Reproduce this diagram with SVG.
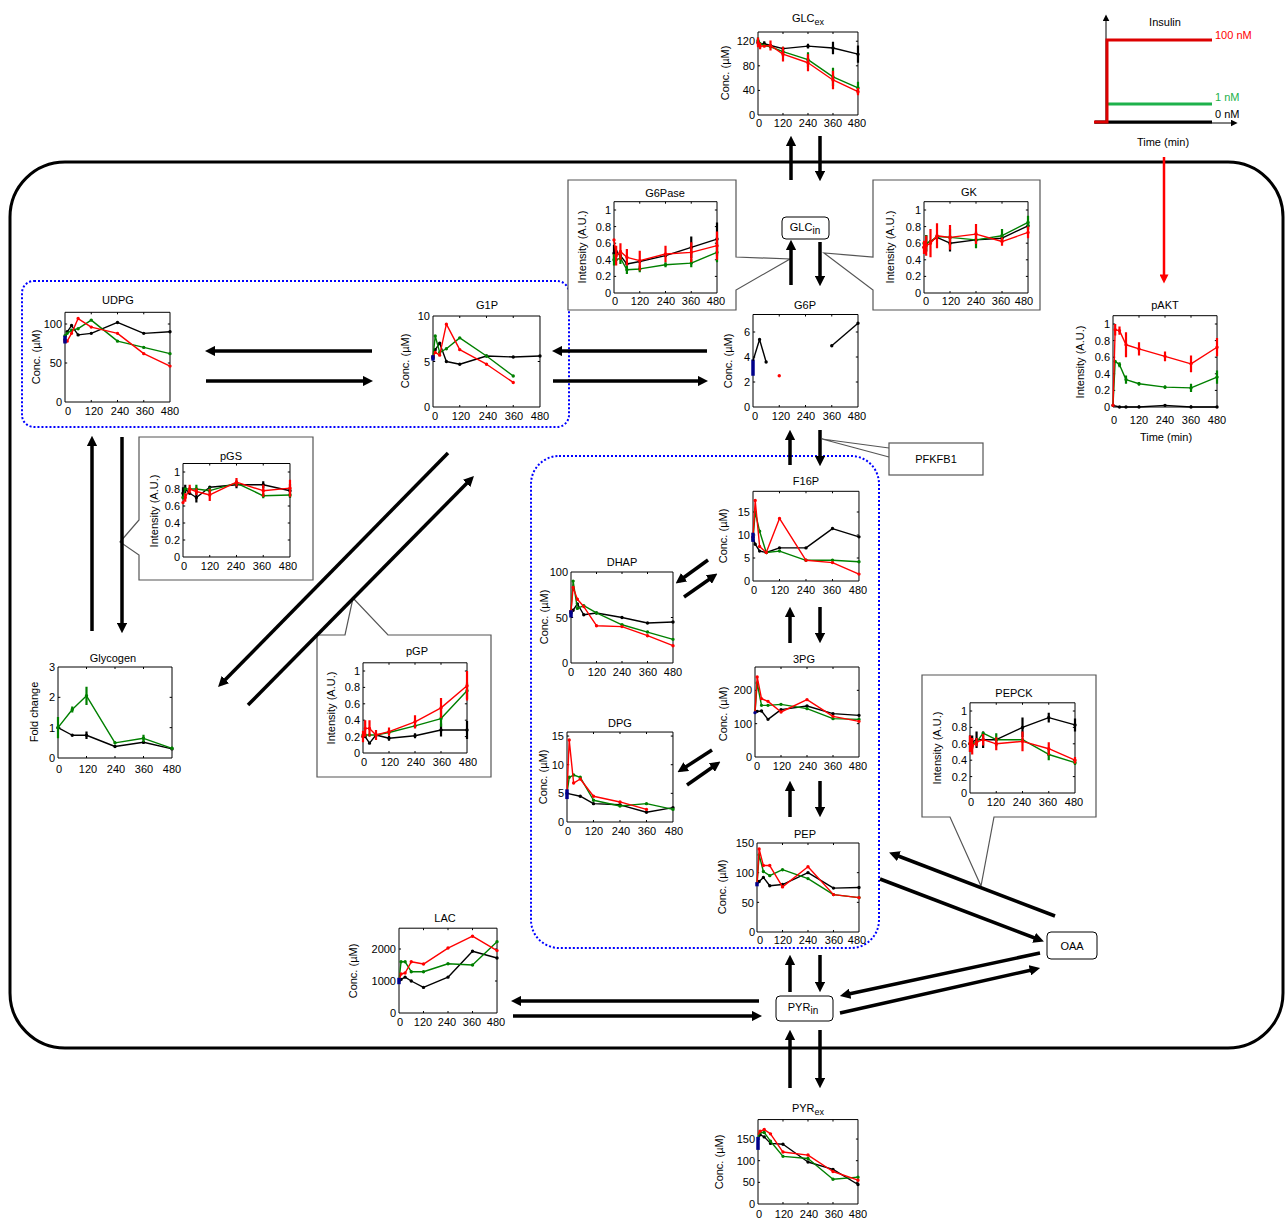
<svg xmlns="http://www.w3.org/2000/svg" xmlns:xlink="http://www.w3.org/1999/xlink" width="1286" height="1221" viewBox="0 0 1286 1221">
<style>
text{font-family:"Liberation Sans",Arial,sans-serif;font-size:11px;fill:#000}
.xt,.tt,.yl{text-anchor:middle}
.yt{text-anchor:end}
.ax{fill:#fff;stroke:#000;stroke-width:1;vector-effect:non-scaling-stroke}
.tk{fill:none;stroke:#000;stroke-width:1;vector-effect:non-scaling-stroke}
.l{fill:none;stroke-width:1.4;stroke-linejoin:round;vector-effect:non-scaling-stroke}
.e{fill:none;stroke-width:2.2;vector-effect:non-scaling-stroke}
.d{fill:none;stroke-width:3.4;stroke-linecap:round;vector-effect:non-scaling-stroke}
.bb{fill:none;stroke:#00008b;stroke-width:3.5;vector-effect:non-scaling-stroke}
.k{stroke:#000}.g{stroke:#008000}.r{stroke:#ff0000}.b{stroke:#00008b}
.co{fill:#fff;stroke:#555;stroke-width:1.2}
.dot{fill:none;stroke:#0000ff;stroke-width:2;stroke-dasharray:2 2}
.ar{fill:none;stroke:#000;stroke-width:3.5;marker-end:url(#ah)}
.bx{fill:#fff;stroke:#000;stroke-width:1}
</style>
<defs>
<marker id="ah" viewBox="0 0 10 10" refX="6" refY="5" markerWidth="3" markerHeight="3" orient="auto" markerUnits="strokeWidth"><path d="M0 0L10 5L0 10z" fill="#000"/></marker>
<marker id="ahr" viewBox="0 0 10 10" refX="6" refY="5" markerWidth="4" markerHeight="3.6" orient="auto" markerUnits="strokeWidth"><path d="M0 0L10 5L0 10z" fill="#f00"/></marker>
<marker id="ahs" viewBox="0 0 10 10" refX="2" refY="5" markerWidth="7" markerHeight="7" orient="auto" markerUnits="strokeWidth"><path d="M0 0L10 5L0 10z" fill="#000"/></marker>
<path id="t11" class="tk" d="M0 .2h10M0 .4h10M0 .6h10M0 .8h10M0 1h10M480 .2h-10M480 .4h-10M480 .6h-10M480 .8h-10M480 1h-10M120 0v.024M240 0v.024M360 0v.024M120 1.1v-.024M240 1.1v-.024M360 1.1v-.024"/>
</defs>
<rect width="1286" height="1221" fill="#fff"/>

<!-- cell and compartments -->
<rect x="10" y="162" width="1273" height="886" rx="55" fill="none" stroke="#000" stroke-width="3"/>
<rect class="dot" x="22" y="281" width="547" height="146" rx="12"/>
<rect class="dot" x="531" y="456" width="348" height="492" rx="28"/>

<!-- callouts -->
<g id="callouts">
<polygon class="co" points="568,180 736,180 736,257 790,259 736,290 736,310 568,310"/>
<polygon class="co" points="873,180 1040,180 1040,310 873,310 873,290 824,253 873,257"/>
<polygon class="co" points="139,437 313,437 313,580 139,580 139,555 120,542 139,520"/>
<polygon class="co" points="317,635 345,635 353,598 388,635 491,635 491,777 317,777"/>
<polygon class="co" points="922,675 1096,675 1096,817 994,817 981,886 950,817 922,817"/>
</g>

<!-- Insulin -->
<g id="insulin">
<path d="M1106 123V20" stroke="#000" stroke-width="1" marker-end="url(#ahs)"/>
<path d="M1094 123H1232" stroke="#000" stroke-width="1" marker-end="url(#ahs)"/>
<path d="M1095 122H1212" stroke="#000" stroke-width="3" fill="none"/>
<path d="M1108 104H1212" stroke="#1db14b" stroke-width="3" fill="none"/>
<path d="M1094 122H1107V40H1212" stroke="#dd0000" stroke-width="3" fill="none"/>
<text class="tt" x="1165" y="26">Insulin</text>
<text x="1215" y="39" fill="#ff0000" style="fill:#ff0000">100 nM</text>
<text x="1215" y="101" style="fill:#1db14b">1 nM</text>
<text x="1215" y="118">0 nM</text>
<text class="tt" x="1163" y="146">Time (min)</text>
</g>

<!-- GLCex -->
<g id="GLCex">
<g transform="translate(758 115) scale(0.2083 -0.6148)">
<rect class="ax" width="480" height="135"/>
<path class="tk" d="M0 40h10M0 80h10M0 120h10M480 40h-10M480 80h-10M480 120h-10M120 0v3.3M240 0v3.3M360 0v3.3M120 135v-3.3M240 135v-3.3M360 135v-3.3"/>
<polyline class="l k" points="0,118 10,115 30,116 60,113 120,108 240,112 360,109 480,99"/>
<path class="d k" d="M0 118h0M10 115h0M30 116h0M60 113h0M120 108h0M240 112h0M360 109h0M480 99h0"/>
<path class="e k" d="M0 113V123M30 112V120M240 108V116M360 99V119M480 85V113"/>
<polyline class="l g" points="0,121 10,116 30,113 60,111 120,103 240,90 360,62 480,44"/>
<path class="d g" d="M0 121h0M10 116h0M30 113h0M60 111h0M120 103h0M240 90h0M360 62h0M480 44h0"/>
<path class="e g" d="M0 116V126M120 95V111M240 78V102M360 47V77M480 34V54"/>
<polyline class="l r" points="0,118 10,112 30,112 60,113 120,99 240,85 360,57 480,38"/>
<path class="d r" d="M0 118h0M10 112h0M30 112h0M60 113h0M120 99h0M240 85h0M360 57h0M480 38h0"/>
<path class="e r" d="M0 110V126M10 107V117M60 105V121M120 87V111M240 71V99M360 42V72M480 32V44"/>
</g>
<text class="tt" x="808" y="22">GLC<tspan font-size="9" dy="3">ex</tspan></text>
<text class="yl" transform="translate(729 73) rotate(-90)">Conc. (µM)</text>
<text class="yt"><tspan x="755" y="119">0</tspan><tspan x="755" y="94">40</tspan><tspan x="755" y="70">80</tspan><tspan x="755" y="45">120</tspan></text>
<text class="xt" y="127"><tspan x="759">0</tspan><tspan x="783">120</tspan><tspan x="808">240</tspan><tspan x="833">360</tspan><tspan x="857">480</tspan></text>
</g>

<!-- GLCin -->
<g id="GLCin">
<rect class="bx" x="782" y="217" width="47" height="22" rx="4"/>
<text class="tt" x="805" y="231">GLC<tspan font-size="10" dy="3">in</tspan></text>
</g>

<!-- G6Pase -->
<g id="G6Pase">
<g transform="translate(614 293) scale(0.2146 -83)">
<rect class="ax" width="480" height="1.1"/>
<use xlink:href="#t11"/>
<polyline class="l k" points="0,.48 10,.5 30,.45 60,.35 120,.38 240,.45 360,.55 480,.65"/>
<path class="d k" d="M0 .48h0M10 .5h0M30 .45h0M60 .35h0M120 .38h0M240 .45h0M360 .55h0M480 .65h0"/>
<path class="e k" d="M0 .38V.58M360 .42V.68M480 .45V.85"/>
<polyline class="l g" points="0,.4 10,.4 30,.42 60,.28 120,.29 240,.34 360,.36 480,.49"/>
<path class="d g" d="M0 .4h0M10 .4h0M30 .42h0M60 .28h0M120 .29h0M240 .34h0M360 .36h0M480 .49h0"/>
<path class="e g" d="M0 .33V.47M30 .35V.49M60 .23V.33M120 .25V.33M240 .31V.37M360 .31V.41M480 .37V.61"/>
<polyline class="l r" points="0,.64 10,.45 30,.5 60,.43 120,.39 240,.47 360,.49 480,.57"/>
<path class="d r" d="M0 .64h0M10 .45h0M30 .5h0M60 .43h0M120 .39h0M240 .47h0M360 .49h0M480 .57h0"/>
<path class="e r" d="M10 .33V.57M30 .4V.6M60 .33V.53M120 .27V.51M240 .37V.57M360 .37V.61M480 .4V.74"/>
</g>
<text class="tt" x="665" y="197">G6Pase</text>
<text class="yl" transform="translate(586 247) rotate(-90)">Intensity (A.U.)</text>
<text class="yt"><tspan x="611" y="297">0</tspan><tspan x="611" y="280">0.2</tspan><tspan x="611" y="264">0.4</tspan><tspan x="611" y="247">0.6</tspan><tspan x="611" y="231">0.8</tspan><tspan x="611" y="214">1</tspan></text>
<text class="xt" y="305"><tspan x="615">0</tspan><tspan x="640">120</tspan><tspan x="666">240</tspan><tspan x="691">360</tspan><tspan x="716">480</tspan></text>
</g>

<!-- GK -->
<g id="GK">
<g transform="translate(924 293) scale(0.2167 -83)">
<rect class="ax" width="480" height="1.1"/>
<use xlink:href="#t11"/>
<polyline class="l k" points="0,.55 10,.6 30,.62 60,.67 120,.6 240,.64 360,.66 480,.81"/>
<path class="d k" d="M0 .55h0M10 .6h0M30 .62h0M60 .67h0M120 .6h0M240 .64h0M360 .66h0M480 .81h0"/>
<path class="e k" d="M10 .5V.7M120 .5V.7M360 .61V.71M480 .76V.86"/>
<polyline class="l g" points="0,.6 10,.6 30,.62 60,.68 120,.67 240,.64 360,.69 480,.85"/>
<path class="d g" d="M0 .6h0M10 .6h0M30 .62h0M60 .68h0M120 .67h0M240 .64h0M360 .69h0M480 .85h0"/>
<path class="e g" d="M10 .5V.7M120 .57V.77M240 .54V.74M360 .61V.77M480 .77V.93"/>
<polyline class="l r" points="0,.55 10,.57 30,.6 60,.69 120,.67 240,.71 360,.62 480,.73"/>
<path class="d r" d="M0 .55h0M10 .57h0M30 .6h0M60 .69h0M120 .67h0M240 .71h0M360 .62h0M480 .73h0"/>
<path class="e r" d="M0 .47V.63M10 .45V.69M30 .43V.77M60 .54V.84M120 .52V.82M240 .59V.83M360 .57V.67M480 .66V.8"/>
</g>
<text class="tt" x="969" y="196">GK</text>
<text class="yl" transform="translate(894 247) rotate(-90)">Intensity (A.U.)</text>
<text class="yt"><tspan x="921" y="297">0</tspan><tspan x="921" y="280">0.2</tspan><tspan x="921" y="264">0.4</tspan><tspan x="921" y="247">0.6</tspan><tspan x="921" y="231">0.8</tspan><tspan x="921" y="214">1</tspan></text>
<text class="xt" y="305"><tspan x="926">0</tspan><tspan x="951">120</tspan><tspan x="976">240</tspan><tspan x="1001">360</tspan><tspan x="1024">480</tspan></text>
</g>

<!-- G6P -->
<g id="G6P">
<g transform="translate(753 407) scale(0.21875 -12.5)">
<rect class="ax" width="480" height="7.4"/>
<path class="tk" d="M0 2h10M0 4h10M0 6h10M480 2h-10M480 4h-10M480 6h-10M120 0v.16M240 0v.16M360 0v.16M120 7.4v-.16M240 7.4v-.16M360 7.4v-.16"/>
<path class="bb" d="M0 2.5V3.8"/>
<polyline class="l k" points="0,3.7 30,5.4 60,3.6"/>
<polyline class="l k" points="360,4.9 480,6.7"/>
<path class="d k" d="M30 5.4h0M60 3.6h0M360 4.9h0M480 6.7h0"/>
<path class="d r" d="M120 2.5h0"/>
</g>
<text class="tt" x="805" y="309">G6P</text>
<text class="yl" transform="translate(732 361) rotate(-90)">Conc. (µM)</text>
<text class="yt"><tspan x="750" y="411">0</tspan><tspan x="750" y="386">2</tspan><tspan x="750" y="361">4</tspan><tspan x="750" y="336">6</tspan></text>
<text class="xt" y="420"><tspan x="755">0</tspan><tspan x="781">120</tspan><tspan x="806">240</tspan><tspan x="832">360</tspan><tspan x="857">480</tspan></text>
</g>

<!-- PFKFB1 -->
<g id="PFKFB1">
<polyline points="889,448 822,439 889,457" fill="none" stroke="#555" stroke-width="1.2"/>
<rect x="889" y="443" width="94" height="32" fill="#fff" stroke="#555" stroke-width="1.2"/>
<text class="tt" x="936" y="463">PFKFB1</text>
</g>

<!-- pAKT -->
<g id="pAKT">
<g transform="translate(1113 407) scale(0.2167 -83)">
<rect class="ax" width="480" height="1.1"/>
<use xlink:href="#t11"/>
<polyline class="l k" points="0,.02 30,0 60,0 120,0 240,.02 360,0 480,0"/>
<path class="d k" d="M0 .02h0M30 0h0M60 0h0M120 0h0M240 .02h0M360 0h0M480 0h0"/>
<polyline class="l g" points="0,.02 10,.55 30,.51 60,.33 120,.28 240,.24 360,.23 480,.36"/>
<path class="d g" d="M10 .55h0M30 .51h0M60 .33h0M120 .28h0M240 .24h0M360 .23h0M480 .36h0"/>
<path class="e g" d="M30 .48V.54M60 .28V.38M120 .26V.3M240 .22V.26M360 .18V.28M480 .28V.44"/>
<polyline class="l r" points="0,.02 10,.93 30,.92 60,.75 120,.7 240,.61 360,.52 480,.72"/>
<path class="d r" d="M0 .02h0M10 .93h0M30 .92h0M60 .75h0M120 .7h0M240 .61h0M360 .52h0M480 .72h0"/>
<path class="e r" d="M10 .86V1M30 .87V.97M60 .6V.9M120 .62V.78M240 .55V.67M360 .42V.62M480 .61V.83"/>
</g>
<text class="tt" x="1165" y="309">pAKT</text>
<text class="yl" transform="translate(1084 362) rotate(-90)">Intensity (A.U.)</text>
<text class="yt"><tspan x="1110" y="411">0</tspan><tspan x="1110" y="394">0.2</tspan><tspan x="1110" y="378">0.4</tspan><tspan x="1110" y="361">0.6</tspan><tspan x="1110" y="345">0.8</tspan><tspan x="1110" y="328">1</tspan></text>
<text class="xt" y="424"><tspan x="1114">0</tspan><tspan x="1139">120</tspan><tspan x="1165">240</tspan><tspan x="1191">360</tspan><tspan x="1217">480</tspan></text>
<text class="tt" x="1166" y="441">Time (min)</text>
</g>

<!-- UDPG -->
<g id="UDPG">
<g transform="translate(65 402) scale(0.21875 -0.78)">
<rect class="ax" width="480" height="115"/>
<path class="tk" d="M0 50h10M0 100h10M480 50h-10M480 100h-10M120 0v2.6M240 0v2.6M360 0v2.6M120 115v-2.6M240 115v-2.6M360 115v-2.6"/>
<polyline class="l k" points="0,80 10,90 30,98 60,86 120,88 240,102 360,88 480,90"/>
<path class="d k" d="M0 80h0M10 90h0M30 98h0M60 86h0M120 88h0M240 102h0M360 88h0M480 90h0"/>
<polyline class="l g" points="0,85 10,88 30,92 60,94 120,105 240,78 360,70 480,62"/>
<path class="d g" d="M0 85h0M10 88h0M30 92h0M60 94h0M120 105h0M240 78h0M360 70h0M480 62h0"/>
<polyline class="l r" points="0,78 10,78 30,88 60,107 120,96 240,88 360,62 480,46"/>
<path class="d r" d="M0 78h0M10 78h0M30 88h0M60 107h0M120 96h0M240 88h0M360 62h0M480 46h0"/>
<path class="bb" d="M0 75V85"/>
</g>
<text class="tt" x="118" y="304">UDPG</text>
<text class="yl" transform="translate(40 357) rotate(-90)">Conc. (µM)</text>
<text class="yt"><tspan x="62" y="406">0</tspan><tspan x="62" y="367">50</tspan><tspan x="62" y="328">100</tspan></text>
<text class="xt" y="415"><tspan x="68">0</tspan><tspan x="94">120</tspan><tspan x="120">240</tspan><tspan x="145">360</tspan><tspan x="170">480</tspan></text>
</g>

<!-- G1P -->
<g id="G1P">
<g transform="translate(433 407) scale(0.2229 -9.1)">
<rect class="ax" width="480" height="10"/>
<path class="tk" d="M0 5h10M480 5h-10M120 0v.22M240 0v.22M360 0v.22M120 10v-.22M240 10v-.22M360 10v-.22"/>
<polyline class="l k" points="0,5.4 10,6.3 30,7 60,5 120,4.7 240,5.6 360,5.5 480,5.6"/>
<path class="d k" d="M0 5.4h0M10 6.3h0M30 7h0M60 5h0M120 4.7h0M240 5.6h0M360 5.5h0M480 5.6h0"/>
<polyline class="l g" points="0,5.5 10,7.8 30,6 60,6.4 120,7.6 240,5.6 360,3.4"/>
<path class="d g" d="M0 5.5h0M10 7.8h0M30 6h0M60 6.4h0M120 7.6h0M240 5.6h0M360 3.4h0"/>
<polyline class="l r" points="0,5.5 10,6 30,5.7 60,9.1 120,6.3 240,4.7 360,2.7"/>
<path class="d r" d="M0 5.5h0M10 6h0M30 5.7h0M60 9.1h0M120 6.3h0M240 4.7h0M360 2.7h0"/>
<path class="bb" d="M0 5.1V5.7"/>
</g>
<text class="tt" x="487" y="309">G1P</text>
<text class="yl" transform="translate(409 361) rotate(-90)">Conc. (µM)</text>
<text class="yt"><tspan x="430" y="411">0</tspan><tspan x="430" y="366">5</tspan><tspan x="430" y="320">10</tspan></text>
<text class="xt" y="420"><tspan x="435">0</tspan><tspan x="461">120</tspan><tspan x="488">240</tspan><tspan x="514">360</tspan><tspan x="540">480</tspan></text>
</g>

<!-- pGS -->
<g id="pGS">
<g transform="translate(183 557) scale(0.2229 -85)">
<rect class="ax" width="480" height="1.1"/>
<use xlink:href="#t11"/>
<polyline class="l k" points="0,.75 10,.8 30,.75 60,.7 120,.82 240,.85 360,.85 480,.78"/>
<path class="d k" d="M0 .75h0M10 .8h0M30 .75h0M60 .7h0M120 .82h0M240 .85h0M360 .85h0M480 .78h0"/>
<path class="e k" d="M0 .68V.82M10 .75V.85M60 .64V.76M240 .81V.89M360 .81V.89M480 .7V.86"/>
<polyline class="l g" points="0,.7 10,.8 30,.8 60,.8 120,.78 240,.87 360,.72 480,.73"/>
<path class="d g" d="M0 .7h0M10 .8h0M30 .8h0M60 .8h0M120 .78h0M240 .87h0M360 .72h0M480 .73h0"/>
<path class="e g" d="M60 .75V.85M120 .74V.82M240 .84V.9M360 .69V.75M480 .7V.76"/>
<polyline class="l r" points="0,.64 10,.7 30,.8 60,.77 120,.73 240,.88 360,.78 480,.81"/>
<path class="d r" d="M0 .64h0M10 .7h0M30 .8h0M60 .77h0M120 .73h0M240 .88h0M360 .78h0M480 .81h0"/>
<path class="e r" d="M10 .65V.75M30 .75V.85M60 .73V.81M120 .66V.8M240 .83V.93M360 .71V.85M480 .71V.91"/>
</g>
<text class="tt" x="231" y="460">pGS</text>
<text class="yl" transform="translate(158 511) rotate(-90)">Intensity (A.U.)</text>
<text class="yt"><tspan x="180" y="561">0</tspan><tspan x="180" y="544">0.2</tspan><tspan x="180" y="527">0.4</tspan><tspan x="180" y="510">0.6</tspan><tspan x="180" y="493">0.8</tspan><tspan x="180" y="476">1</tspan></text>
<text class="xt" y="570"><tspan x="184">0</tspan><tspan x="210">120</tspan><tspan x="236">240</tspan><tspan x="262">360</tspan><tspan x="288">480</tspan></text>
</g>

<!-- Glycogen -->
<g id="Glycogen">
<g transform="translate(58 758) scale(0.2375 -30.33)">
<rect class="ax" width="480" height="3"/>
<path class="tk" d="M0 1h10M0 2h10M480 1h-10M480 2h-10M120 0v.066M240 0v.066M360 0v.066M120 3v-.066M240 3v-.066M360 3v-.066"/>
<polyline class="l k" points="0,1 60,.75 120,.75 240,.38 360,.52 480,.3"/>
<path class="d k" d="M0 1h0M60 .75h0M120 .75h0M240 .38h0M360 .52h0M480 .3h0"/>
<path class="e k" d="M120 .63V.87M360 .47V.57"/>
<polyline class="l g" points="0,1 60,1.6 120,2.05 240,.5 360,.65 480,.32"/>
<path class="d g" d="M0 1h0M60 1.6h0M120 2.05h0M240 .5h0M360 .65h0M480 .32h0"/>
<path class="e g" d="M0 .65V1.35M60 1.5V1.7M120 1.75V2.35M240 .45V.55M360 .53V.77M480 .27V.37"/>
</g>
<text class="tt" x="113" y="662">Glycogen</text>
<text class="yl" transform="translate(38 712) rotate(-90)">Fold change</text>
<text class="yt"><tspan x="55" y="762">0</tspan><tspan x="55" y="732">1</tspan><tspan x="55" y="701">2</tspan><tspan x="55" y="671">3</tspan></text>
<text class="xt" y="773"><tspan x="59">0</tspan><tspan x="88">120</tspan><tspan x="116">240</tspan><tspan x="144">360</tspan><tspan x="172">480</tspan></text>
</g>

<!-- pGP -->
<g id="pGP">
<g transform="translate(363 753) scale(0.2167 -82)">
<rect class="ax" width="480" height="1.1"/>
<use xlink:href="#t11"/>
<polyline class="l k" points="0,.2 10,.2 30,.12 60,.22 120,.18 240,.21 360,.28 480,.28"/>
<path class="d k" d="M0 .2h0M10 .2h0M30 .12h0M60 .22h0M120 .18h0M240 .21h0M360 .28h0M480 .28h0"/>
<path class="e k" d="M120 .15V.21M240 .18V.24M360 .2V.36M480 .17V.39"/>
<polyline class="l g" points="0,.22 10,.22 30,.22 60,.22 120,.25 240,.33 360,.42 480,.76"/>
<path class="d g" d="M0 .22h0M10 .22h0M30 .22h0M60 .22h0M120 .25h0M240 .33h0M360 .42h0M480 .76h0"/>
<path class="e g" d="M360 .32V.52M480 .66V.86"/>
<polyline class="l r" points="0,.2 10,.3 30,.3 60,.22 120,.26 240,.38 360,.55 480,.82"/>
<path class="d r" d="M0 .2h0M10 .3h0M30 .3h0M60 .22h0M120 .26h0M240 .38h0M360 .55h0M480 .82h0"/>
<path class="e r" d="M0 .13V.27M10 .2V.4M30 .2V.4M60 .16V.28M120 .21V.31M240 .3V.46M360 .43V.67M480 .64V1"/>
</g>
<text class="tt" x="417" y="655">pGP</text>
<text class="yl" transform="translate(335 708) rotate(-90)">Intensity (A.U.)</text>
<text class="yt"><tspan x="360" y="757">0</tspan><tspan x="360" y="741">0.2</tspan><tspan x="360" y="724">0.4</tspan><tspan x="360" y="708">0.6</tspan><tspan x="360" y="691">0.8</tspan><tspan x="360" y="675">1</tspan></text>
<text class="xt" y="766"><tspan x="364">0</tspan><tspan x="390">120</tspan><tspan x="416">240</tspan><tspan x="442">360</tspan><tspan x="468">480</tspan></text>
</g>

<!-- DHAP -->
<g id="DHAP">
<g transform="translate(571 663) scale(0.2125 -0.91)">
<rect class="ax" width="480" height="100"/>
<path class="tk" d="M0 50h10M480 50h-10M120 0v2.2M240 0v2.2M360 0v2.2M120 100v-2.2M240 100v-2.2M360 100v-2.2"/>
<polyline class="l k" points="0,55 10,58 30,65 60,53 120,55 240,50 360,44 480,45"/>
<path class="d k" d="M0 55h0M10 58h0M30 65h0M60 53h0M120 55h0M240 50h0M360 44h0M480 45h0"/>
<polyline class="l g" points="0,57 10,90 30,60 60,63 120,55 240,42 360,34 480,26"/>
<path class="d g" d="M0 57h0M10 90h0M30 60h0M60 63h0M120 55h0M240 42h0M360 34h0M480 26h0"/>
<polyline class="l r" points="0,57 10,83 30,70 60,62 120,41 240,40 360,30 480,19"/>
<path class="d r" d="M0 57h0M10 83h0M30 70h0M60 62h0M120 41h0M240 40h0M360 30h0M480 19h0"/>
<path class="bb" d="M0 50V58"/>
</g>
<text class="tt" x="622" y="566">DHAP</text>
<text class="yl" transform="translate(548 617) rotate(-90)">Conc. (µM)</text>
<text class="yt"><tspan x="568" y="667">0</tspan><tspan x="568" y="622">50</tspan><tspan x="568" y="576">100</tspan></text>
<text class="xt" y="676"><tspan x="571">0</tspan><tspan x="597">120</tspan><tspan x="622">240</tspan><tspan x="648">360</tspan><tspan x="673">480</tspan></text>
</g>

<!-- F16P -->
<g id="F16P">
<g transform="translate(753 581) scale(0.2208 -4.6)">
<rect class="ax" width="480" height="19.5"/>
<path class="tk" d="M0 5h10M0 10h10M0 15h10M480 5h-10M480 10h-10M480 15h-10M120 0v.43M240 0v.43M360 0v.43M120 19.5v-.43M240 19.5v-.43M360 19.5v-.43"/>
<polyline class="l k" points="0,9.5 10,8 30,6.5 60,6.2 120,7.2 240,7.2 360,11.4 480,9.6"/>
<path class="d k" d="M0 9.5h0M10 8h0M30 6.5h0M60 6.2h0M120 7.2h0M240 7.2h0M360 11.4h0M480 9.6h0"/>
<polyline class="l g" points="0,9 10,15 30,10.8 60,6.2 120,6.5 240,4.5 360,4.5 480,4.2"/>
<path class="d g" d="M0 9h0M10 15h0M30 10.8h0M60 6.2h0M120 6.5h0M240 4.5h0M360 4.5h0M480 4.2h0"/>
<polyline class="l r" points="0,9.5 10,17.5 30,7.5 60,6.2 120,13.6 240,4.5 360,4 480,1.5"/>
<path class="d r" d="M0 9.5h0M10 17.5h0M30 7.5h0M60 6.2h0M120 13.6h0M240 4.5h0M360 4h0M480 1.5h0"/>
<path class="bb" d="M0 8.5V10.5"/>
</g>
<text class="tt" x="806" y="485">F16P</text>
<text class="yl" transform="translate(727 536) rotate(-90)">Conc. (µM)</text>
<text class="yt"><tspan x="750" y="585">0</tspan><tspan x="750" y="562">5</tspan><tspan x="750" y="539">10</tspan><tspan x="750" y="516">15</tspan></text>
<text class="xt" y="594"><tspan x="754">0</tspan><tspan x="780">120</tspan><tspan x="806">240</tspan><tspan x="832">360</tspan><tspan x="858">480</tspan></text>
</g>

<!-- 3PG -->
<g id="PG3">
<g transform="translate(755 757) scale(0.2167 -0.3333)">
<rect class="ax" width="480" height="270"/>
<path class="tk" d="M0 100h10M0 200h10M480 100h-10M480 200h-10M120 0v6M240 0v6M360 0v6M120 270v-6M240 270v-6M360 270v-6"/>
<polyline class="l k" points="0,133 10,137 30,138 60,113 120,142 240,153 360,130 480,125"/>
<path class="d k" d="M10 137h0M30 138h0M60 113h0M120 142h0M240 153h0M360 130h0M480 125h0"/>
<polyline class="l g" points="0,133 10,222 30,155 60,155 120,158 240,145 360,115 480,113"/>
<path class="d g" d="M10 222h0M30 155h0M60 155h0M120 158h0M240 145h0M360 115h0M480 113h0"/>
<polyline class="l r" points="0,133 10,240 30,175 60,167 120,135 240,172 360,122 480,107"/>
<path class="d r" d="M10 240h0M30 175h0M60 167h0M120 135h0M240 172h0M360 122h0M480 107h0"/>
<path class="d b" d="M0 133h0"/>
</g>
<text class="tt" x="804" y="663">3PG</text>
<text class="yl" transform="translate(727 714) rotate(-90)">Conc. (µM)</text>
<text class="yt"><tspan x="752" y="761">0</tspan><tspan x="752" y="728">100</tspan><tspan x="752" y="694">200</tspan></text>
<text class="xt" y="770"><tspan x="757">0</tspan><tspan x="782">120</tspan><tspan x="808">240</tspan><tspan x="833">360</tspan><tspan x="858">480</tspan></text>
</g>

<!-- DPG -->
<g id="DPG">
<g transform="translate(567 822) scale(0.2208 -5.73)">
<rect class="ax" width="480" height="15.7"/>
<path class="tk" d="M0 5h10M0 10h10M0 15h10M480 5h-10M480 10h-10M480 15h-10M120 0v.35M240 0v.35M360 0v.35M120 15.7v-.35M240 15.7v-.35M360 15.7v-.35"/>
<polyline class="l k" points="0,5 60,4.5 120,3.2 240,3 360,1.7 480,2.5"/>
<path class="d k" d="M0 5h0M60 4.5h0M120 3.2h0M240 3h0M360 1.7h0M480 2.5h0"/>
<polyline class="l g" points="0,5 10,7.8 30,8.2 60,7.8 120,3.8 240,2.8 360,3.2 480,2.2"/>
<path class="d g" d="M10 7.8h0M30 8.2h0M60 7.8h0M120 3.8h0M240 2.8h0M360 3.2h0M480 2.2h0"/>
<polyline class="l r" points="0,5 10,14.3 30,6.8 60,7.5 120,4.5 240,3.5 360,2.2"/>
<path class="d r" d="M10 14.3h0M30 6.8h0M60 7.5h0M120 4.5h0M240 3.5h0M360 2.2h0"/>
<path class="bb" d="M0 4V5.7"/>
</g>
<text class="tt" x="620" y="727">DPG</text>
<text class="yl" transform="translate(547 777) rotate(-90)">Conc. (µM)</text>
<text class="yt"><tspan x="564" y="826">0</tspan><tspan x="564" y="797">5</tspan><tspan x="564" y="769">10</tspan><tspan x="564" y="740">15</tspan></text>
<text class="xt" y="835"><tspan x="568">0</tspan><tspan x="594">120</tspan><tspan x="621">240</tspan><tspan x="647">360</tspan><tspan x="674">480</tspan></text>
</g>

<!-- PEP -->
<g id="PEP">
<g transform="translate(757 932) scale(0.2125 -0.5933)">
<rect class="ax" width="480" height="150"/>
<path class="tk" d="M0 50h10M0 100h10M480 50h-10M480 100h-10M120 0v3.4M240 0v3.4M360 0v3.4M120 150v-3.4M240 150v-3.4M360 150v-3.4"/>
<polyline class="l k" points="0,80 10,85 30,92 60,78 120,80 240,100 360,74 480,75"/>
<path class="d k" d="M10 85h0M30 92h0M60 78h0M120 80h0M240 100h0M360 74h0M480 75h0"/>
<polyline class="l g" points="0,80 10,130 30,102 60,95 120,105 240,90 360,63 480,58"/>
<path class="d g" d="M10 130h0M30 102h0M60 95h0M120 105h0M240 90h0M360 63h0M480 58h0"/>
<polyline class="l r" points="0,80 10,140 30,112 60,112 120,76 240,110 360,63 480,58"/>
<path class="d r" d="M10 140h0M30 112h0M60 112h0M120 76h0M240 110h0M360 63h0M480 58h0"/>
<path class="bb" d="M0 77V84"/>
</g>
<text class="tt" x="805" y="838">PEP</text>
<text class="yl" transform="translate(726 887) rotate(-90)">Conc. (µM)</text>
<text class="yt"><tspan x="755" y="936">0</tspan><tspan x="754" y="907">50</tspan><tspan x="754" y="877">100</tspan><tspan x="754" y="847">150</tspan></text>
<text class="xt" y="944"><tspan x="760">0</tspan><tspan x="783">120</tspan><tspan x="808">240</tspan><tspan x="834">360</tspan><tspan x="857">480</tspan></text>
</g>

<!-- PEPCK -->
<g id="PEPCK">
<g transform="translate(970 793) scale(0.21875 -82)">
<rect class="ax" width="480" height="1.1"/>
<use xlink:href="#t11"/>
<polyline class="l k" points="0,.6 10,.62 30,.65 60,.65 120,.65 240,.8 360,.92 480,.83"/>
<path class="d k" d="M0 .6h0M10 .62h0M30 .65h0M60 .65h0M120 .65h0M240 .8h0M360 .92h0M480 .83h0"/>
<path class="e k" d="M0 .5V.7M10 .54V.7M30 .55V.75M60 .55V.75M240 .68V.92M360 .86V.98M480 .75V.91"/>
<polyline class="l g" points="0,.6 10,.6 30,.62 60,.73 120,.65 240,.65 360,.47 480,.37"/>
<path class="d g" d="M0 .6h0M10 .6h0M30 .62h0M60 .73h0M120 .65h0M240 .65h0M360 .47h0M480 .37h0"/>
<path class="e g" d="M120 .57V.73M360 .4V.54M480 .34V.4"/>
<polyline class="l r" points="0,.6 10,.57 30,.62 60,.65 120,.6 240,.63 360,.54 480,.4"/>
<path class="d r" d="M0 .6h0M10 .57h0M30 .62h0M60 .65h0M120 .6h0M240 .63h0M360 .54h0M480 .4h0"/>
<path class="e r" d="M0 .5V.7M10 .47V.67M30 .57V.67M60 .58V.72M120 .52V.68M240 .51V.75M360 .46V.62M480 .36V.44"/>
</g>
<text class="tt" x="1014" y="697">PEPCK</text>
<text class="yl" transform="translate(941 748) rotate(-90)">Intensity (A.U.)</text>
<text class="yt"><tspan x="967" y="797">0</tspan><tspan x="967" y="781">0.2</tspan><tspan x="967" y="764">0.4</tspan><tspan x="967" y="748">0.6</tspan><tspan x="967" y="731">0.8</tspan><tspan x="967" y="715">1</tspan></text>
<text class="xt" y="806"><tspan x="971">0</tspan><tspan x="996">120</tspan><tspan x="1022">240</tspan><tspan x="1048">360</tspan><tspan x="1074">480</tspan></text>
</g>

<!-- OAA -->
<g id="OAA">
<rect class="bx" x="1047" y="932" width="50" height="27" rx="4"/>
<text class="tt" x="1072" y="950">OAA</text>
</g>

<!-- PYRin -->
<g id="PYRin">
<rect class="bx" x="776" y="996" width="57" height="25" rx="4"/>
<text class="tt" x="803" y="1011">PYR<tspan font-size="10" dy="3">in</tspan></text>
</g>

<!-- LAC -->
<g id="LAC">
<g transform="translate(399 1013) scale(0.2042 -0.032)">
<rect class="ax" width="480" height="2650"/>
<path class="tk" d="M0 1000h10M0 2000h10M480 1000h-10M480 2000h-10M120 0v62M240 0v62M360 0v62M120 2650v-62M240 2650v-62M360 2650v-62"/>
<polyline class="l k" points="0,1000 10,1050 30,1120 60,1000 120,800 240,1120 360,1930 480,1720"/>
<path class="d k" d="M10 1050h0M30 1120h0M60 1000h0M120 800h0M240 1120h0M360 1930h0M480 1720h0"/>
<polyline class="l g" points="0,1000 10,1600 30,1600 60,1290 120,1290 240,1540 360,1500 480,2230"/>
<path class="d g" d="M10 1600h0M30 1600h0M60 1290h0M120 1290h0M240 1540h0M360 1500h0M480 2230h0"/>
<polyline class="l r" points="0,1000 10,1220 30,1250 60,1600 120,1530 240,2030 360,2400 480,1950"/>
<path class="d r" d="M10 1220h0M30 1250h0M60 1600h0M120 1530h0M240 2030h0M360 2400h0M480 1950h0"/>
<path class="bb" d="M0 900V1100"/>
</g>
<text class="tt" x="445" y="922">LAC</text>
<text class="yl" transform="translate(357 971) rotate(-90)">Conc. (µM)</text>
<text class="yt"><tspan x="396" y="1017">0</tspan><tspan x="396" y="985">1000</tspan><tspan x="396" y="953">2000</tspan></text>
<text class="xt" y="1026"><tspan x="400">0</tspan><tspan x="423">120</tspan><tspan x="447">240</tspan><tspan x="472">360</tspan><tspan x="496">480</tspan></text>
</g>

<!-- PYRex -->
<g id="PYRex">
<g transform="translate(758 1204) scale(0.2083 -0.433)">
<rect class="ax" width="480" height="195"/>
<path class="tk" d="M0 50h10M0 100h10M0 150h10M480 50h-10M480 100h-10M480 150h-10M120 0v4.6M240 0v4.6M360 0v4.6M120 195v-4.6M240 195v-4.6M360 195v-4.6"/>
<polyline class="l k" points="0,150 10,160 30,155 60,140 120,138 240,97 360,80 480,45"/>
<path class="d k" d="M10 160h0M30 155h0M60 140h0M120 138h0M240 97h0M360 80h0M480 45h0"/>
<polyline class="l g" points="0,155 10,165 30,165 60,145 120,110 240,105 360,57 480,62"/>
<path class="d g" d="M10 165h0M30 165h0M60 145h0M120 110h0M240 105h0M360 57h0M480 62h0"/>
<polyline class="l r" points="0,160 10,168 30,172 60,162 120,120 240,113 360,75 480,55"/>
<path class="d r" d="M10 168h0M30 172h0M60 162h0M120 120h0M240 113h0M360 75h0M480 55h0"/>
<path class="bb" d="M0 125V155"/>
</g>
<text class="tt" x="808" y="1112">PYR<tspan font-size="9" dy="3">ex</tspan></text>
<text class="yl" transform="translate(723 1162) rotate(-90)">Conc. (µM)</text>
<text class="yt"><tspan x="755" y="1208">0</tspan><tspan x="755" y="1186">50</tspan><tspan x="755" y="1165">100</tspan><tspan x="755" y="1143">150</tspan></text>
<text class="xt" y="1218"><tspan x="759">0</tspan><tspan x="784">120</tspan><tspan x="809">240</tspan><tspan x="834">360</tspan><tspan x="858">480</tspan></text>
</g>

<!-- connectors -->
<g id="connectors">
<path class="ar" d="M791 180V140"/>
<path class="ar" d="M820 136V177"/>
<path class="ar" d="M791 285V244"/>
<path class="ar" d="M820 242V282"/>
<path class="ar" d="M372 351H209"/>
<path class="ar" d="M206 381H369"/>
<path class="ar" d="M707 351H556"/>
<path class="ar" d="M553 381H704"/>
<path class="ar" d="M92 631V440"/>
<path class="ar" d="M122 437V629"/>
<path class="ar" d="M448 453L221 684"/>
<path class="ar" d="M248 705L471 479"/>
<path class="ar" d="M790 465V434"/>
<path class="ar" d="M820 430V462"/>
<path class="ar" d="M708 560L679 581"/>
<path class="ar" d="M684 597L714 576"/>
<path class="ar" d="M790 643V611"/>
<path class="ar" d="M820 607V639"/>
<path class="ar" d="M712 750L681 770"/>
<path class="ar" d="M687 785L717 764"/>
<path class="ar" d="M790 817V785"/>
<path class="ar" d="M820 781V813"/>
<path class="ar" d="M1055 916L893 854"/>
<path class="ar" d="M880 879L1040 940"/>
<path class="ar" d="M790 992V959"/>
<path class="ar" d="M820 955V988"/>
<path class="ar" d="M1040 953L844 995"/>
<path class="ar" d="M840 1013L1036 969"/>
<path class="ar" d="M759 1001H515"/>
<path class="ar" d="M513 1016H758"/>
<path class="ar" d="M790 1088V1034"/>
<path class="ar" d="M820 1030V1084"/>
<path d="M1164 157V280" fill="none" stroke="#f00" stroke-width="2.5" marker-end="url(#ahr)"/>
</g>
</svg>
